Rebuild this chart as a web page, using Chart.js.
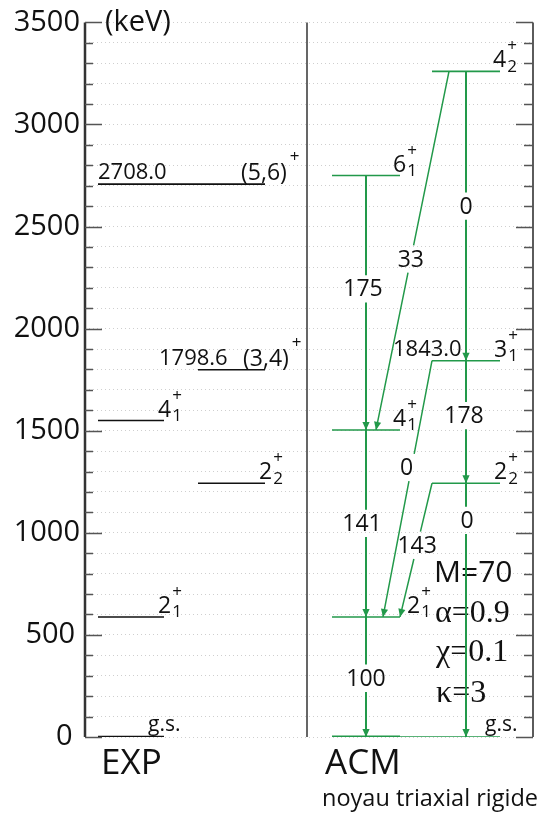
<!DOCTYPE html>
<html>
<head>
<meta charset="utf-8">
<script src="https://cdn.jsdelivr.net/npm/chart.js@4.4.1/dist/chart.umd.min.js"></script>
<style>
  html, body { margin: 0; padding: 0; background: #fff; }
  canvas { display: block; }
</style>
</head>
<body>
<canvas id="levelChart" width="539" height="813"></canvas>
<script>
// ================================================================
// Data
// ================================================================
// experimental levels (keV)
const expSpins    = ["g.s.", "2", "4", "2", "(3,4)", "(5,6)"];
const expSubs     = ["", "1", "1", "2", "", ""];
const expEnergies = [0, 588, 1550, 1243, 1798.6, 2708.0];
const expShown    = ["", "", "", "", "1798.6", "2708.0"];

// ACM (rigid triaxial) levels (keV)
const acmSpins    = ["g.s.", "2", "4", "6", "2", "3", "4"];
const acmSubs     = ["", "1", "1", "1", "2", "1", "2"];
const acmEnergies = [0, 588, 1504, 2750, 1243, 1843.0, 3260];
const acmShown    = ["", "", "", "", "", "1843.0", ""];

// ACM transitions: initial level, final level (indices in acm arrays), B(E2) relative
const transFrom = [3, 2, 1, 6, 6, 5, 4, 5, 4];
const transTo   = [2, 1, 0, 2, 5, 4, 0, 1, 1];
const transBE2  = [175, 141, 100, 33, 0, 178, 0, 0, 143];
const transLabelE = [2195, 1046, 288, 2341, 2600, 1574, 1061, 1320, 939];

const params = ["M=70", "α=0.9", "χ=0.1", "κ=3"];

// ================================================================
// Layout (x scale runs 85..533, same as canvas columns)
// ================================================================
const GREEN = "#22994a";
const INK = "#111";
const expCols = [[98, 164], [98, 164], [98, 164], [198, 265], [198, 265], [98, 265]];
const acmCols = [[332, 500], [332, 400], [332, 400], [332, 400], [432, 500], [432, 500], [432, 500]];
const expLabelDx = [-16, -6, -6, -6, -22, -24];
const acmLabelDx = [-15, 7, -7, -7, -6, -6, -7];
const expShownDx = [0, 0, 0, 0, -39, 0];
const acmShownDx = [0, 0, 0, 0, 0, -39, 0];
const transX = [[366, 366], [366, 366], [366, 366], [449, 376], [466, 466],
                [466, 466], [466, 466], [432, 383], [432, 400]];
const transLabelDx = [-3, -4, 0, 0, 0, -2, 1, -5, 0];
const GAP = 67; // keV, half height of the break around an intensity label

const SANS = "'Open Sans', 'DejaVu Sans', sans-serif";
const SERIF = "'Liberation Serif', 'DejaVu Serif', serif";

function xOnTransition(i, e) {
  const [x1, x2] = transX[i];
  const e1 = acmEnergies[transFrom[i]];
  const e2 = acmEnergies[transTo[i]];
  return x1 + ((e1 - e) / (e1 - e2)) * (x2 - x1);
}

// ================================================================
// Datasets
// ================================================================
const datasets = [];

expEnergies.forEach((e, i) => {
  datasets.push({
    data: [{ x: expCols[i][0], y: e }, { x: expCols[i][1], y: e }],
    borderColor: INK,
    borderWidth: i === 0 ? 2.6 : 1.6,
    pointRadius: 0,
  });
});

acmEnergies.forEach((e, i) => {
  datasets.push({
    data: [{ x: acmCols[i][0], y: e }, { x: acmCols[i][1], y: e }],
    borderColor: GREEN,
    borderWidth: 1.6,
    pointRadius: 0,
  });
});
// heavier ground state under the left ACM column
datasets.push({
  data: [{ x: acmCols[1][0], y: acmEnergies[0] }, { x: acmCols[1][1], y: acmEnergies[0] }],
  borderColor: GREEN,
  borderWidth: 3,
  pointRadius: 0,
});

transBE2.forEach((v, i) => {
  const e1 = acmEnergies[transFrom[i]];
  const e2 = acmEnergies[transTo[i]];
  const eL = transLabelE[i];
  const vertical = transX[i][0] === transX[i][1];
  datasets.push({
    data: [
      { x: transX[i][0], y: e1 },
      { x: xOnTransition(i, eL + GAP), y: eL + GAP },
      { x: xOnTransition(i, eL), y: null },
      { x: xOnTransition(i, eL - GAP), y: eL - GAP },
      { x: transX[i][1], y: e2 },
    ],
    borderColor: GREEN,
    borderWidth: vertical ? 2 : 1.5,
    pointRadius: 0,
    spanGaps: false,
  });
});

// ================================================================
// Drawing helpers
// ================================================================
function drawLevelLabel(ctx, x, y, spin, sub) {
  ctx.fillStyle = INK;
  ctx.textAlign = "left";
  if (spin === "g.s.") {
    ctx.font = "21px " + SANS;
    ctx.fillText(spin, x, y - 6);
    return;
  }
  ctx.font = "23px " + SANS;
  ctx.fillText(spin, x, y - 4);
  const w = ctx.measureText(spin).width;
  ctx.font = "17px " + SANS;
  if (sub) {
    ctx.fillText(sub, x + w + 1, y + 0.5);
    ctx.fillText("+", x + w + 1, y - 20);
  } else {
    ctx.fillText("+", x + w + 3, y - 22);
  }
}

const levelScheme = {
  id: "levelScheme",
  beforeDatasetsDraw(chart) {
    const { ctx, chartArea: a } = chart;
    ctx.save();
    // EXP | ACM divider
    ctx.strokeStyle = "#000";
    ctx.lineWidth = 1.2;
    ctx.beginPath();
    ctx.moveTo(307, a.top);
    ctx.lineTo(307, a.bottom);
    ctx.stroke();

    // model parameters
    ctx.fillStyle = INK;
    ctx.textAlign = "left";
    ctx.textBaseline = "alphabetic";
    ctx.font = "30px " + SANS;
    ctx.fillText(params[0], 434, 582);
    ctx.font = "32px " + SERIF;
    ctx.fillText(params[1], 435, 622);
    ctx.fillText(params[2], 436, 661);
    ctx.fillText(params[3], 436, 702);
    ctx.restore();
  },
  afterDatasetsDraw(chart) {
    const { ctx, scales: { x, y } } = chart;
    ctx.save();
    ctx.textBaseline = "alphabetic";

    // arrowheads
    ctx.fillStyle = GREEN;
    transBE2.forEach((v, i) => {
      const sx = x.getPixelForValue(transX[i][0]);
      const sy = y.getPixelForValue(acmEnergies[transFrom[i]]);
      const ex = x.getPixelForValue(transX[i][1]);
      const ey = y.getPixelForValue(acmEnergies[transTo[i]]);
      const len = Math.hypot(ex - sx, ey - sy);
      const dx = (ex - sx) / len, dy = (ey - sy) / len;
      const L = 8, W = 3.6;
      ctx.beginPath();
      ctx.moveTo(ex, ey);
      ctx.lineTo(ex - dx * L - dy * W, ey - dy * L + dx * W);
      ctx.lineTo(ex - dx * L + dy * W, ey - dy * L - dx * W);
      ctx.closePath();
      ctx.fill();
    });

    // intensity labels
    ctx.fillStyle = INK;
    ctx.font = "23px " + SANS;
    ctx.textAlign = "center";
    ctx.textBaseline = "middle";
    transBE2.forEach((v, i) => {
      const eL = transLabelE[i];
      const px = x.getPixelForValue(xOnTransition(i, eL)) + transLabelDx[i];
      const py = y.getPixelForValue(eL);
      ctx.fillText(String(v), px, py + 1);
    });
    ctx.textBaseline = "alphabetic";

    // level labels
    expEnergies.forEach((e, i) => {
      const py = y.getPixelForValue(e);
      drawLevelLabel(ctx, x.getPixelForValue(expCols[i][1]) + expLabelDx[i], py, expSpins[i], expSubs[i]);
      if (expShown[i]) {
        ctx.font = "22px " + SANS;
        ctx.textAlign = "left";
        ctx.fillText(expShown[i], x.getPixelForValue(expCols[i][0]) + expShownDx[i], py - 5);
      }
    });
    acmEnergies.forEach((e, i) => {
      const py = y.getPixelForValue(e);
      drawLevelLabel(ctx, x.getPixelForValue(acmCols[i][1]) + acmLabelDx[i], py, acmSpins[i], acmSubs[i]);
      if (acmShown[i]) {
        ctx.font = "22px " + SANS;
        ctx.textAlign = "left";
        ctx.fillText(acmShown[i], x.getPixelForValue(acmCols[i][0]) + acmShownDx[i], py - 5);
      }
    });
    ctx.restore();
  },
  afterDraw(chart) {
    const { ctx, chartArea: a, scales: { y } } = chart;
    ctx.save();
    // left axis
    ctx.strokeStyle = "#333";
    ctx.lineWidth = 2.5;
    ctx.beginPath();
    ctx.moveTo(a.left, a.top);
    ctx.lineTo(a.left, a.bottom);
    ctx.stroke();
    // right axis
    ctx.lineWidth = 1.6;
    ctx.beginPath();
    ctx.moveTo(a.right, a.top);
    ctx.lineTo(a.right, a.bottom);
    ctx.stroke();
    // tick marks (inward on both sides)
    ctx.strokeStyle = "#555";
    ctx.lineWidth = 1.5;
    y.ticks.forEach((t) => {
      const py = Math.round(y.getPixelForValue(t.value)) + 0.5;
      const major = t.value % 500 === 0;
      ctx.beginPath();
      ctx.moveTo(a.left, py);
      ctx.lineTo(a.left + (major ? 17 : 8), py);
      ctx.moveTo(a.right, py);
      ctx.lineTo(a.right - (major ? 17 : 9), py);
      ctx.stroke();
    });

    // unit and column titles
    ctx.fillStyle = INK;
    ctx.textAlign = "left";
    ctx.textBaseline = "alphabetic";
    ctx.font = "29px " + SANS;
    ctx.fillText("(keV)", 105, 31);
    ctx.font = "35px " + SANS;
    ctx.fillText("EXP", 101, 774);
    ctx.fillText("ACM", 325, 774);
    ctx.font = "23.5px " + SANS;
    ctx.fillText("noyau triaxial rigide", 322, 806);
    ctx.restore();
  },
};

// ================================================================
// Chart
// ================================================================
const ctx = document.getElementById("levelChart").getContext("2d");
new Chart(ctx, {
  type: "line",
  data: { datasets },
  options: {
    responsive: false,
    animation: false,
    devicePixelRatio: 1,
    events: [],
    layout: { padding: { top: 21, right: 6, bottom: 76, left: 0 } },
    plugins: { legend: { display: false }, tooltip: { enabled: false } },
    scales: {
      x: { type: "linear", min: 85, max: 533, display: false },
      y: {
        type: "linear",
        min: 0,
        max: 3500,
        afterFit: (scale) => { scale.width = 85; },
        ticks: {
          stepSize: 100,
          autoSkip: false,
          maxTicksLimit: 100,
          padding: 5,
          color: INK,
          font: { family: "'Open Sans', 'DejaVu Sans', sans-serif", size: 29 },
          // the low labels sit a little left of the others in the original
          callback: (v) => {
            if (v % 500 !== 0) return "";
            if (v === 0) return "0 ";
            if (v === 500) return "500\u2009";
            return String(v);
          },
        },
        grid: { color: "#cfcfcf", lineWidth: 1, drawTicks: false },
        border: { display: false, dash: [1, 3] },
      },
    },
  },
  plugins: [levelScheme],
});
</script>
</body>
</html>
